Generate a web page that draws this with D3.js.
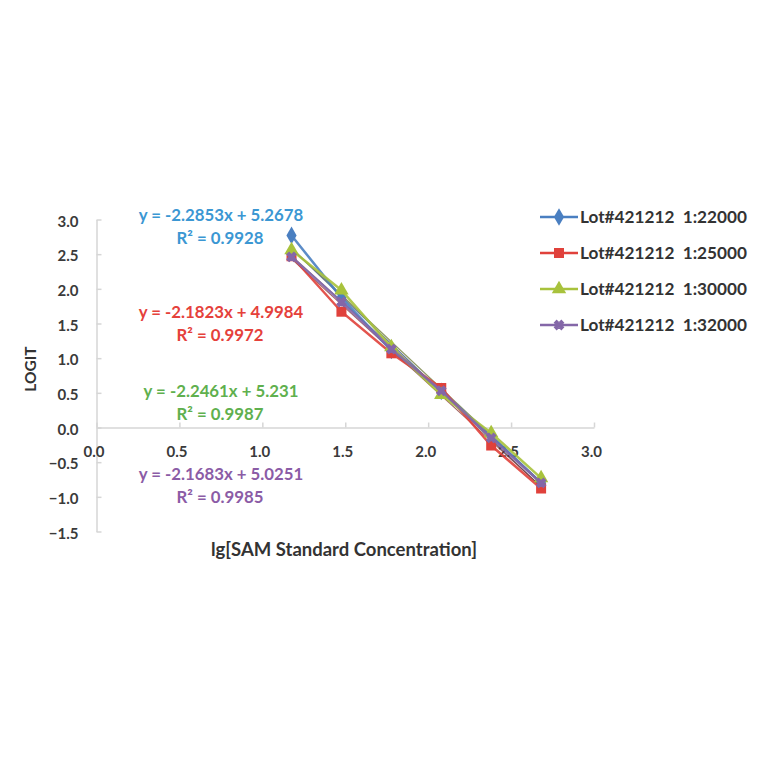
<!DOCTYPE html>
<html>
<head>
<meta charset="utf-8">
<script src="https://cdn.jsdelivr.net/npm/d3@7"></script>
<style>
  body { margin: 0; background: #fff; }
  .tick text { font-family: Lato, "Open Sans", sans-serif; font-weight: bold; font-size: 15px; fill: #3a3a3a; }
</style>
</head>
<body>
<script>
// Declare global Variables

const width = 764, height = 764;

// lg of the standard concentrations (x positions of the points)
const lgConc = [1.176, 1.477, 1.778, 2.079, 2.380, 2.681];

// series names
const seriesNames = ["Lot#421212  1:22000", "Lot#421212  1:25000", "Lot#421212  1:30000", "Lot#421212  1:32000"];

// LOGIT values
const lot22000 = [2.77, 1.87, 1.11, 0.52, -0.12, -0.80];
const lot25000 = [2.47, 1.67, 1.07, 0.57, -0.26, -0.88];
const lot30000 = [2.56, 1.98, 1.16, 0.47, -0.08, -0.73];
const lot32000 = [2.46, 1.81, 1.13, 0.53, -0.15, -0.80];

// trendline equations as printed on the chart
const slopes = [-2.2853, -2.1823, -2.2461, -2.1683];
const intercepts = [5.2678, 4.9984, 5.231, 5.0251];
const eqLabels = ["y = -2.2853x + 5.2678", "y = -2.1823x + 4.9984", "y = -2.2461x + 5.231", "y = -2.1683x + 5.0251"];
const r2Labels = ["R² = 0.9928", "R² = 0.9972", "R² = 0.9987", "R² = 0.9985"];

const xTicks = [0, 0.5, 1.0, 1.5, 2.0, 2.5, 3.0];
const yTicks = [-1.5, -1.0, -0.5, 0, 0.5, 1.0, 1.5, 2.0, 2.5, 3.0];

const lineColors = ["#4a7fc1", "#e0413b", "#a8c23c", "#8467a8"];
const textColors = ["#3b97d3", "#e5413b", "#5fb04e", "#8b5ca6"];
const markers = [d3.symbolDiamond, d3.symbolSquare, d3.symbolTriangle, d3.symbolCross];
const eqY = [221, 318, 397, 480]; // baselines of the equation labels
const fontFam = "Lato, 'Open Sans', sans-serif";

const allSeries = [lot22000, lot25000, lot30000, lot32000];

const svg = d3.select("body")
    .append("svg")
    .attr("width", width)
    .attr("height", height);

//X Axis
const x = d3.scaleLinear().domain([0, 3]).range([96.5, 594]);
//Y Axis
const y = d3.scaleLinear().domain([-1.5, 3]).range([531.5, 219.5]);

// y axis, ticks pointing inside
const yAxisG = svg.append("g")
    .attr("transform", `translate(${x(0)},0)`)
    .call(d3.axisLeft(y).tickValues(yTicks).tickFormat(d3.format(".1f"))
        .tickSizeInner(-5).tickSizeOuter(0).tickPadding(18));

// x axis at y = 0
const xAxisG = svg.append("g")
    .attr("transform", `translate(0,${y(0)})`)
    .call(d3.axisBottom(x).tickValues(xTicks).tickFormat(d3.format(".1f"))
        .tickSizeInner(-5).tickSizeOuter(0).tickPadding(19));

svg.selectAll(".domain, .tick line").attr("stroke", "#d6d6d6").attr("stroke-width", 1.5);
xAxisG.selectAll(".tick text").attr("dx", -3);
yAxisG.selectAll(".tick text").attr("dy", "0.45em");

// trendlines
allSeries.forEach((s, i) => {
    const x0 = lgConc[0], x1 = lgConc[lgConc.length - 1];
    svg.append("line")
        .attr("x1", x(x0)).attr("y1", y(slopes[i] * x0 + intercepts[i]))
        .attr("x2", x(x1)).attr("y2", y(slopes[i] * x1 + intercepts[i]))
        .attr("stroke", d3.color(lineColors[i]).darker(1.6))
        .attr("stroke-width", 1.2)
        .attr("opacity", 0.7);
});

const line = d3.line()
    .x((d, j) => x(lgConc[j]))
    .y(d => y(d));

// series lines + markers
allSeries.forEach((s, i) => {
    svg.append("path")
        .datum(s)
        .attr("d", line)
        .attr("fill", "none")
        .attr("stroke", lineColors[i])
        .attr("stroke-width", 2.5)
        .attr("opacity", 0.9);

    svg.selectAll(".pt" + i)
        .data(s)
        .enter()
        .append("path")
        .attr("class", "pt" + i)
        .attr("transform", (d, j) => `translate(${x(lgConc[j])},${y(d)})` + (i === 3 ? " rotate(45)" : ""))
        .attr("d", d3.symbol().type(markers[i]).size(i === 3 ? 55 : (i === 1 ? 100 : 90)))
        .attr("fill", lineColors[i])
        .attr("stroke", i === 3 ? lineColors[i] : "none")
        .attr("stroke-width", 1);
});

// equation labels
eqLabels.forEach((t, i) => {
    const g = svg.append("text")
        .attr("text-anchor", "middle")
        .style("font-family", fontFam)
        .style("font-weight", "bold")
        .style("font-size", "16.8px")
        .attr("fill", textColors[i]);
    g.append("tspan").attr("x", 221).attr("y", eqY[i]).text(t);
    g.append("tspan").attr("x", 220).attr("y", eqY[i] + 23).text(r2Labels[i]);
});

// legend
const legend = svg.append("g");
seriesNames.forEach((n, i) => {
    const ly = 217 + i * 36;
    legend.append("line")
        .attr("x1", 540).attr("x2", 578)
        .attr("y1", ly).attr("y2", ly)
        .attr("stroke", lineColors[i]).attr("stroke-width", 2.5);
    legend.append("path")
        .attr("transform", `translate(559,${ly})` + (i === 3 ? " rotate(45)" : ""))
        .attr("d", d3.symbol().type(markers[i]).size(i === 3 ? 55 : (i === 1 ? 100 : 90)))
        .attr("fill", lineColors[i])
        .attr("stroke", i === 3 ? lineColors[i] : "none");
    legend.append("text")
        .attr("x", 580).attr("y", ly + 6)
        .style("font-family", fontFam)
        .style("font-weight", "bold")
        .style("font-size", "17.2px")
        .style("white-space", "pre")
        .attr("xml:space", "preserve")
        .attr("fill", "#333")
        .text(n);
});

// axis titles
svg.append("text")
    .attr("x", 344).attr("y", 556)
    .attr("text-anchor", "middle")
    .style("font-family", fontFam)
    .style("font-weight", "bold")
    .style("font-size", "18.5px")
    .attr("fill", "#333")
    .text("lg[SAM Standard Concentration]");

svg.append("text")
    .attr("transform", "translate(36,369) rotate(-90)")
    .attr("text-anchor", "middle")
    .style("font-family", fontFam)
    .style("font-weight", "bold")
    .style("font-size", "15.5px")
    .attr("fill", "#333")
    .text("LOGIT");
</script>
</body>
</html>
